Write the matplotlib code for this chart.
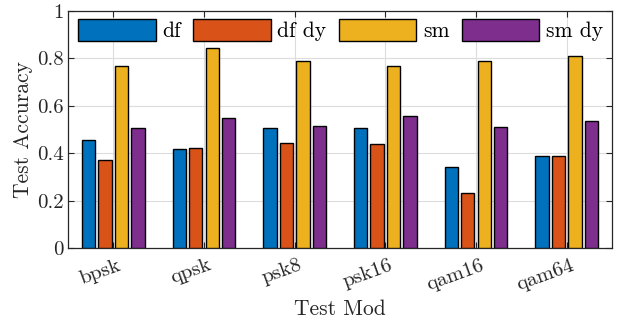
import numpy as np
import matplotlib
matplotlib.use('Agg')
import matplotlib.pyplot as plt
from matplotlib.transforms import ScaledTranslation

plt.rcParams['font.family'] = ['cmr10', 'DejaVu Serif']
plt.rcParams['axes.formatter.use_mathtext'] = True

mods = ['bpsk', 'qpsk', 'psk8', 'psk16', 'qam16', 'qam64']
series = ['df', 'df dy', 'sm', 'sm dy']
df_acc = [0.456, 0.416, 0.506, 0.508, 0.340, 0.388]
df_dy_acc = [0.371, 0.422, 0.442, 0.439, 0.233, 0.388]
sm_acc = [0.769, 0.845, 0.788, 0.767, 0.788, 0.810]
sm_dy_acc = [0.506, 0.547, 0.513, 0.556, 0.511, 0.536]
yticks = [0, 0.2, 0.4, 0.6, 0.8, 1]
ytick_labels = ['0', '0.2', '0.4', '0.6', '0.8', '1']

colors = ['#0072BD', '#D95319', '#EDB120', '#7E2F8E']
values = [df_acc, df_dy_acc, sm_acc, sm_dy_acc]

fig = plt.figure(figsize=(6.26, 3.28), dpi=100)
ax = fig.add_axes([68 / 626, 1 - 248 / 328, 544 / 626, 237 / 328])

x = np.arange(1, len(mods) + 1)
slot = 0.182
for i, (name, vals, c) in enumerate(zip(series, values, colors)):
    ax.bar(x + (i - 1.5) * slot, vals, width=0.8 * slot, color=c,
           edgecolor='black', linewidth=1.0, label=name, zorder=3)

ax.set_xlim(0.5, 6.5)
ax.set_ylim(0, 1)
ax.set_xticks(x)
ax.set_xticklabels(mods, rotation=20, ha='right', va='center',
                   rotation_mode='anchor')
ax.set_yticks(yticks)
ax.set_yticklabels(ytick_labels)
ax.tick_params(direction='in', length=4, width=0.8, top=True, right=True,
               labelsize=15, colors='#262626', pad=3)
ax.tick_params(axis='x', pad=12)
# shift the rotated labels a little to the right, as in the original
# (done after tick_params, which resets the label transforms)
shift = ScaledTranslation(7 / 100, 0, fig.dpi_scale_trans)
for lab in ax.xaxis.get_majorticklabels():
    lab.set_transform(lab.get_transform() + shift)
ax.grid(True, color='#dcdcdc', linewidth=0.8, zorder=0)
for s in ax.spines.values():
    s.set_color('#262626')
    s.set_linewidth(0.9)

ax.set_xlabel('Test Mod', fontsize=15.5, color='#262626', labelpad=4)
ax.set_ylabel('Test Accuracy', fontsize=15.5, color='#262626', labelpad=3)

ax.legend(loc='upper left', bbox_to_anchor=(10 / 544, 1 - 8 / 237), ncol=4,
          frameon=False, fontsize=15.5, handlelength=3.6, handleheight=1.2,
          handletextpad=0.32, columnspacing=0.56, borderpad=0, borderaxespad=0)

fig.savefig('out.png', dpi=100)
